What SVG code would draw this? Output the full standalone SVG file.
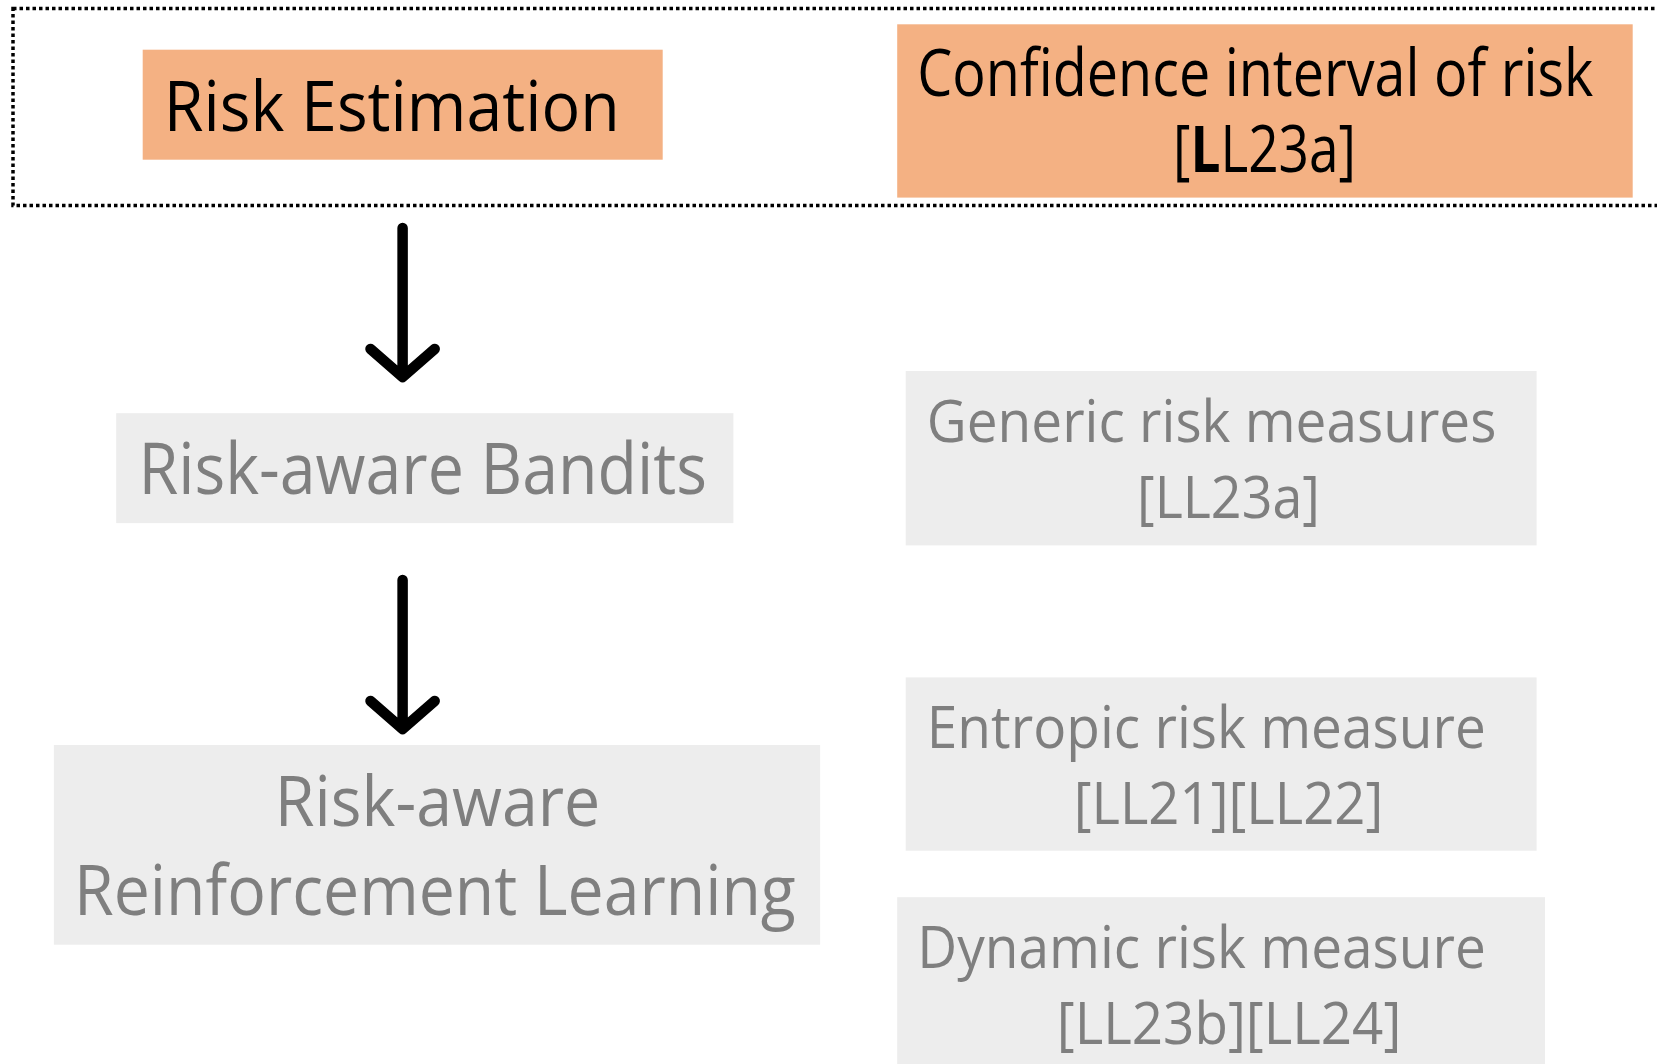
<svg xmlns="http://www.w3.org/2000/svg" width="1657" height="1064" viewBox="0 0 1657 1064">
  <style>
    .t { font-family: "Open Sans", "Noto Sans", sans-serif; }
    .dark { fill: #000000; }
    .grey { fill: #7f7f7f; }
    .orange { fill: #f4b183; }
    .pale { fill: #ededed; }
    .arrow { fill: none; stroke: #000000; stroke-width: 10.5; stroke-linecap: round; stroke-linejoin: round; }
  </style>
  <rect width="1657" height="1064" fill="#ffffff"/>

  <!-- dotted frame around the estimation row -->
  <rect id="frame" x="13" y="8.5" width="1660" height="197" fill="none" stroke="#000000" stroke-width="3.5" stroke-dasharray="3.5 3"/>

  <g id="risk-estimation">
    <rect class="orange" x="142.7" y="49.7" width="520" height="110"/>
    <text class="t dark" x="163.8" y="131" font-size="70" textLength="456" lengthAdjust="spacingAndGlyphs">Risk Estimation</text>
  </g>

  <g id="confidence-interval">
    <rect class="orange" x="897.2" y="24.3" width="735.5" height="173.3"/>
    <text class="t dark" x="917.3" y="96.2" font-size="65" textLength="676" lengthAdjust="spacingAndGlyphs">Confidence interval of risk</text>
    <text class="t dark" x="1173" y="172.3" font-size="65" textLength="183" lengthAdjust="spacingAndGlyphs">[<tspan font-weight="bold">L</tspan>L23a]</text>
  </g>

  <g id="bandits">
    <rect class="pale" x="116.2" y="413.2" width="617.2" height="109.9"/>
    <text class="t grey" x="138.4" y="493.5" font-size="71" textLength="568.6" lengthAdjust="spacingAndGlyphs">Risk-aware Bandits</text>
  </g>

  <g id="reinforcement-learning">
    <rect class="pale" x="53.9" y="745" width="766.2" height="199.7"/>
    <text class="t grey" x="274.8" y="826.4" font-size="70" textLength="325.5" lengthAdjust="spacingAndGlyphs">Risk-aware</text>
    <text class="t grey" x="74" y="915.2" font-size="70" textLength="721.8" lengthAdjust="spacingAndGlyphs">Reinforcement Learning</text>
  </g>

  <g id="generic-risk">
    <rect class="pale" x="905.7" y="371" width="630.9" height="174.4"/>
    <text class="t grey" x="926.8" y="441.7" font-size="59" textLength="569.6" lengthAdjust="spacingAndGlyphs">Generic risk measures</text>
    <text class="t grey" x="1137.1" y="517.8" font-size="59" textLength="182.8" lengthAdjust="spacingAndGlyphs">[LL23a]</text>
  </g>

  <g id="entropic-risk">
    <rect class="pale" x="905.7" y="677.4" width="630.9" height="173.3"/>
    <text class="t grey" x="926.8" y="748.2" font-size="59" textLength="559" lengthAdjust="spacingAndGlyphs">Entropic risk measure</text>
    <text class="t grey" x="1073.7" y="824.3" font-size="59" textLength="309.6" lengthAdjust="spacingAndGlyphs">[LL21][LL22]</text>
  </g>

  <g id="dynamic-risk">
    <rect class="pale" x="897.2" y="897.2" width="647.8" height="170"/>
    <text class="t grey" x="917.3" y="968" font-size="59" textLength="568.6" lengthAdjust="spacingAndGlyphs">Dynamic risk measure</text>
    <text class="t grey" x="1056.8" y="1044.1" font-size="59" textLength="344.5" lengthAdjust="spacingAndGlyphs">[LL23b][LL24]</text>
  </g>

  <g id="connectors">
    <path class="arrow" d="M402.6 228 V377 M370.5 349 L402.6 377 L434.7 349"/>
    <path class="arrow" d="M402.6 580 V729 M370.5 701 L402.6 729 L434.7 701"/>
  </g>
</svg>
